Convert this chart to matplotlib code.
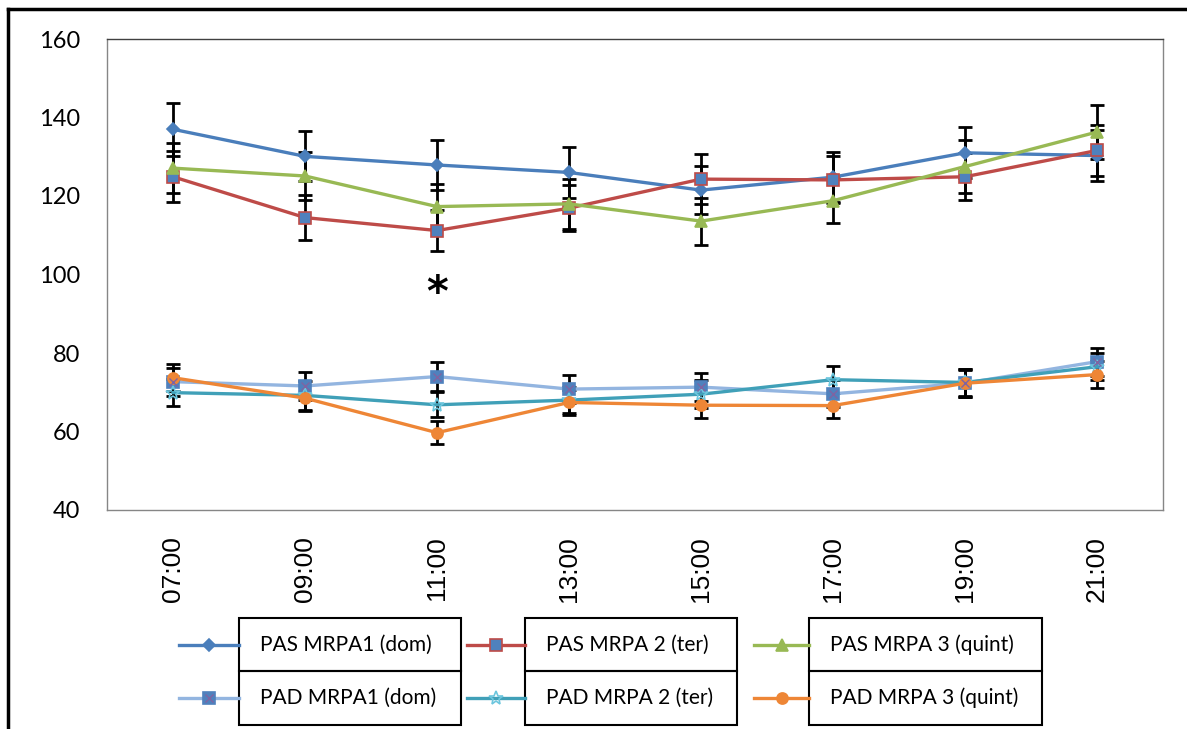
import matplotlib
matplotlib.use("Agg")
import matplotlib.pyplot as plt
from matplotlib.lines import Line2D
from matplotlib.patches import Rectangle

# === data ===
hours = ["07:00", "09:00", "11:00", "13:00", "15:00", "17:00", "19:00", "21:00"]

pas1 = [137.0, 130.1, 127.9, 126.0, 121.5, 124.8, 131.0, 130.3]
pas1_sd = [6.8, 6.4, 6.4, 6.4, 6.1, 6.3, 6.5, 6.5]
pas2 = [124.9, 114.5, 111.2, 116.9, 124.3, 124.1, 124.9, 131.6]
pas2_sd = [6.5, 5.8, 5.2, 5.9, 6.4, 6.0, 6.0, 6.5]
pas3 = [127.1, 125.1, 117.3, 118.0, 113.6, 118.8, 127.5, 136.3]
pas3_sd = [6.3, 6.2, 5.8, 6.3, 6.0, 5.8, 6.8, 6.8]

pad1 = [72.7, 71.6, 74.0, 70.8, 71.3, 69.6, 72.3, 77.8]
pad1_sd = [3.6, 3.6, 3.6, 3.6, 3.6, 3.4, 3.6, 3.6]
pad2 = [69.9, 69.2, 66.8, 68.0, 69.5, 73.2, 72.5, 76.5]
pad2_sd = [3.4, 3.6, 3.2, 3.4, 3.5, 3.4, 3.4, 3.4]
pad3 = [73.7, 68.5, 59.7, 67.4, 66.7, 66.6, 72.3, 74.5]
pad3_sd = [3.5, 3.4, 3.0, 3.2, 3.2, 3.2, 3.4, 3.4]

legend_rows = [["PAS MRPA1 (dom)", "PAS MRPA 2 (ter)", "PAS MRPA 3 (quint)"],
               ["PAD MRPA1 (dom)", "PAD MRPA 2 (ter)", "PAD MRPA 3 (quint)"]]

plt.rcParams['font.family'] = ['Lato', 'DejaVu Sans']

W, H = 1187, 729
fig = plt.figure(figsize=(W / 100, H / 100), dpi=100)

def fx(px):
    return px / W

def fy(py):
    return 1 - py / H

ax = fig.add_axes([fx(107), fy(510), fx(1163) - fx(107), fy(39) - fy(510)])

# series styles: line colour, marker, marker face, marker edge, marker size
styles = [
    dict(color="#4A7EBB", marker="D", mfc="#4A7EBB", mec="#4A7EBB", ms=6.5),
    dict(color="#BE4B48", marker="s", mfc="#4F81BD", mec="#BE4B48", ms=8),
    dict(color="#98B954", marker="^", mfc="#98B954", mec="#98B954", ms=8),
    dict(color="#93B5E0", marker="s", mfc="#4F81BD", mec="#4F81BD", ms=8),
    dict(color="#40A0B8", marker="*", mfc="none", mec="#6CC6DE", ms=10),
    dict(color="#EE8636", marker="o", mfc="#EE8636", mec="#EE8636", ms=8),
]
series = [(pas1, pas1_sd), (pas2, pas2_sd), (pas3, pas3_sd),
          (pad1, pad1_sd), (pad2, pad2_sd), (pad3, pad3_sd)]

x = list(range(len(hours)))
for (vals, sd), st in zip(series, styles):
    ax.errorbar(x, vals, yerr=sd, fmt="none", ecolor="black",
                elinewidth=2.0, capsize=5, capthick=2.0, zorder=2)
for (vals, sd), st in zip(series, styles):
    ax.plot(x, vals, color=st["color"], lw=2.4, marker=st["marker"],
            mfc=st["mfc"], mec=st["mec"], ms=st["ms"], mew=1.2, zorder=3)
# cross drawn over the PAD MRPA1 squares
ax.plot(x, pad1, ls="none", marker="x", color="#8064A2", ms=6, mew=1, zorder=4)

ax.text(2, 95, "*", ha="center", va="center", fontsize=30, fontweight="bold",
        family="DejaVu Sans")

ax.set_xlim(-0.5, len(hours) - 0.5)
ax.set_ylim(40, 160)
ax.set_yticks(range(40, 161, 20))
ax.set_xticks(x)
ax.set_xticklabels(hours, rotation=90, fontsize=19,
                   family=['Liberation Sans Narrow', 'Liberation Sans'])
ax.tick_params(axis="y", length=0, pad=19, labelsize=17)
ax.tick_params(axis="x", length=0, pad=19)
for s in ax.spines.values():
    s.set_color("#868686")
    s.set_linewidth(1.0)
ax.spines["top"].set_color("#404040")

# outer frame (left and top only, as in the cropped original)
fig.add_artist(Line2D([fx(8), fx(8)], [fy(9), 0], color="black", lw=2.5,
                      transform=fig.transFigure))
fig.add_artist(Line2D([fx(8), 1], [fy(9), fy(9)], color="black", lw=2.5,
                      transform=fig.transFigure))

# legend: line sample + boxed label per entry
cols = [(179, 239, 461), (467, 525, 737), (754, 809, 1042)]
rows = [(618, 671), (671, 725)]
for r, (top, bot) in enumerate(rows):
    for c, (s0, b0, b1) in enumerate(cols):
        st = styles[r * 3 + c]
        yc = (top + bot) / 2
        fig.add_artist(Line2D([fx(s0), fx(b0)], [fy(yc), fy(yc)], color=st["color"],
                              lw=2.4, transform=fig.transFigure))
        xm = (s0 + b0) / 2
        fig.add_artist(Line2D([fx(xm)], [fy(yc)], marker=st["marker"], mfc=st["mfc"],
                              mec=st["mec"], ms=st["ms"], mew=1.2, ls="none",
                              transform=fig.transFigure))
        if r == 1 and c == 0:
            fig.add_artist(Line2D([fx(xm)], [fy(yc)], marker="x", color="#8064A2",
                                  ms=6, mew=1, ls="none", transform=fig.transFigure))
        fig.add_artist(Rectangle((fx(b0), fy(bot)), fx(b1) - fx(b0), fy(top) - fy(bot),
                                 fill=False, ec="black", lw=1.5,
                                 transform=fig.transFigure))
        fig.text(fx(b0 + 21), fy(yc), legend_rows[r][c], va="center", ha="left",
                 fontsize=15)

fig.savefig("out.png", dpi=100)
